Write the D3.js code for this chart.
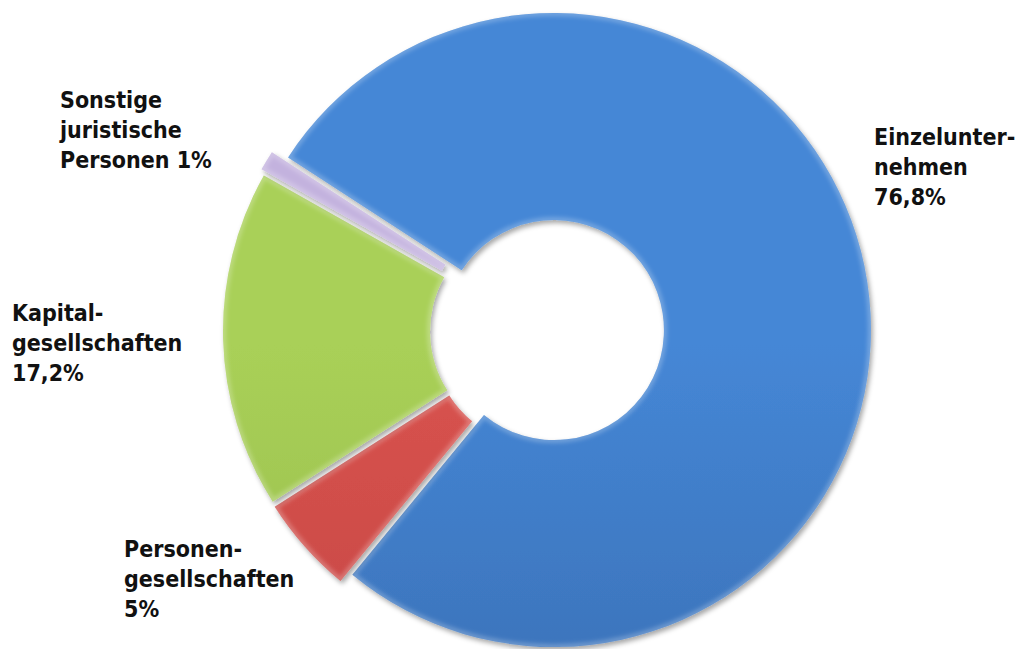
<!DOCTYPE html>
<html lang="de">
<head>
<meta charset="UTF-8">
<title>Rechtsformen</title>
<script src="https://cdn.jsdelivr.net/npm/d3@7"></script>
<style>
  body{margin:0;background:#fff;}
  .lbl{font-family:"DejaVu Sans Condensed","DejaVu Sans",sans-serif;font-weight:bold;font-size:23px;fill:#111;}
</style>
</head>
<body>
<script>
    var categories=["Einzelunternehmen","Personengesellschaften","Kapitalgesellschaften","Sonstige juristische Personen"];
    var values=[76.8,5,17.2,1];
    var labelLines=[["Einzelunter-","nehmen","76,8%"],["Personen-","gesellschaften","5%"],["Kapital-","gesellschaften","17,2%"],["Sonstige","juristische","Personen 1%"]];
    var colorsTop=["#4587d6","#d9534f","#a9d058","#c3b2de"];
    var colorsBottom=["#3462a2","#b73f3b","#8aae40","#a290c0"];

    var width=1027,height=649;
    var cx=548,cy=331,outerR=317,innerR=110;
    var explode=[6,8,8,12];          // Abstand der herausgezogenen Stücke
    var labelPos=[[874,145],[124,557],[12,321],[60,108]]; // Grundlinie erste Zeile
    var lineH=30;

    var svg=d3.select("body").append("svg")
        .attr("width",width)
        .attr("height",height);

    var defs=svg.append("defs");
    // Schatten
    var sh=defs.append("filter").attr("id","shadow")
        .attr("x","-10%").attr("y","-10%").attr("width","120%").attr("height","120%");
    sh.append("feDropShadow").attr("dx",2).attr("dy",3).attr("stdDeviation",2.5)
        .attr("flood-color","#000").attr("flood-opacity",0.35);
    var bl=defs.append("filter").attr("id","blur");
    bl.append("feGaussianBlur").attr("stdDeviation",2);

    // Farbverlauf je Stück
    categories.forEach(function(c,i){
        var lg=defs.append("linearGradient").attr("id","grad"+i)
            .attr("gradientUnits","userSpaceOnUse")
            .attr("x1",0).attr("y1",cy-outerR).attr("x2",0).attr("y2",cy+outerR);
        lg.append("stop").attr("offset","0%").attr("stop-color",colorsTop[i]);
        lg.append("stop").attr("offset","100%").attr("stop-color",colorsBottom[i]);
    });

    var pie=d3.pie().sort(null)
        .startAngle(-57*Math.PI/180)
        .endAngle(303*Math.PI/180);
    var arcs=pie(values);
    var arc=d3.arc().innerRadius(innerR).outerRadius(outerR);

    var g=svg.append("g").attr("transform","translate("+cx+","+cy+")");

    var slices=g.selectAll("g.slice").data(arcs).enter().append("g")
        .attr("class","slice")
        .attr("transform",function(d,i){
            var m=(d.startAngle+d.endAngle)/2;
            return "translate("+(Math.sin(m)*explode[i])+","+(-Math.cos(m)*explode[i])+")";
        });

    slices.append("clipPath").attr("id",function(d,i){return "clip"+i;})
        .append("path").attr("d",arc);

    slices.append("path")
        .attr("d",arc)
        .attr("fill",function(d,i){return "url(#grad"+i+")";})
        .attr("filter","url(#shadow)");

    // heller Rand innen (Abschrägung)
    slices.append("path")
        .attr("d",arc)
        .attr("fill","none")
        .attr("stroke","#fff")
        .attr("stroke-opacity",0.25)
        .attr("stroke-width",6)
        .attr("clip-path",function(d,i){return "url(#clip"+i+")";})
        .attr("filter","url(#blur)");

    // Beschriftungen
    labelLines.forEach(function(lines,i){
        var t=svg.append("text").attr("class","lbl")
            .attr("x",labelPos[i][0]).attr("y",labelPos[i][1]);
        lines.forEach(function(s,k){
            t.append("tspan").attr("x",labelPos[i][0]).attr("dy",k==0?0:lineH).text(s);
        });
    });
</script>
</body>
</html>
